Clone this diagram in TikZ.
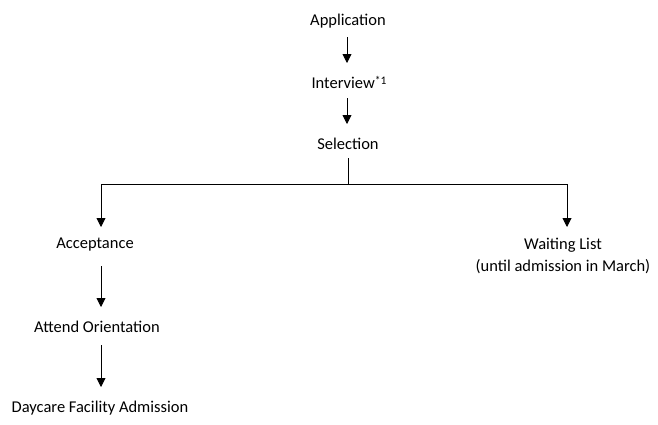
\documentclass[tikz,border=0pt]{standalone}
\usepackage{fontspec}
\setmainfont{Carlito}
\usetikzlibrary{arrows.meta}
\begin{document}
\begin{tikzpicture}[x=1pt,y=-1pt,
  lbl/.style={inner sep=0pt,font=\fontsize{16.5}{22}\selectfont,align=center},
  conn/.style={line width=0.9pt,black},
  arr/.style={conn,-{Triangle[length=9pt,width=9pt]}}]
\useasboundingbox[fill=white] (0,0) rectangle (658,424);
\node[lbl] (app) at (348,21.5) {Application};
\node[lbl] (int) at (349,82.5) {Interview\raisebox{0.45ex}{\fontsize{11.5}{12}\selectfont *1}};
\node[lbl] (sel) at (348,143.5) {Selection};
\node[lbl] (acc) at (95,244.5) {Acceptance};
\node[lbl] (ori) at (97,326.5) {Attend Orientation};
\node[lbl] (day) at (100,408.5) {Daycare Facility Admission};
\node[lbl] (wait) at (563,255.5) {Waiting List\\(until admission in March)};
\coordinate (top) at (348,184);
\coordinate (lc) at (101,184);
\coordinate (rc) at (567,184);
\coordinate (la) at (101,227);
\coordinate (ra) at (567,227);
\draw[arr] (347,37) -- (347,63);
\draw[arr] (347,98) -- (347,124);
\draw[conn] (348,158) -- (top);
\draw[conn] (lc) -- (rc);
\draw[arr] (lc) -- (la);
\draw[arr] (rc) -- (ra);
\draw[arr] (101,266) -- (101,307);
\draw[arr] (101,345) -- (101,387);
\end{tikzpicture}
\end{document}
